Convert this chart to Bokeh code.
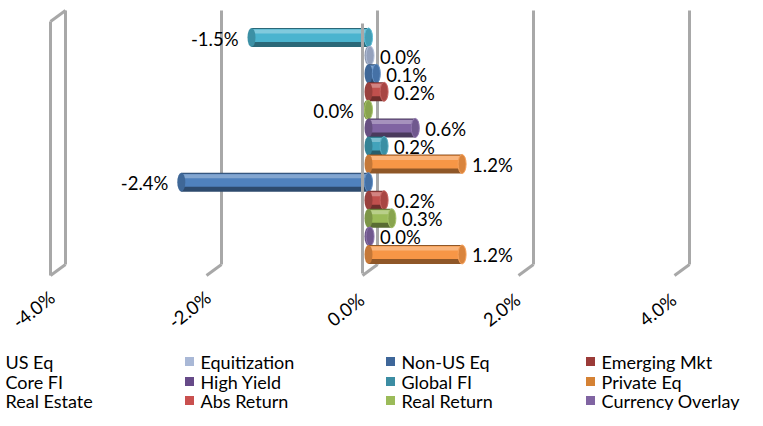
import numpy as np
from bokeh.plotting import figure
from bokeh.models import Range1d
from bokeh.core.properties import value
from bokeh.embed import file_html
from bokeh.resources import INLINE

# ---- data ----
series = ["US Eq", "Equitization", "Non-US Eq", "Emerging Mkt",
          "Core FI", "High Yield", "Global FI", "Private Eq",
          "Real Estate", "Abs Return", "Real Return", "Currency Overlay"]
legend_colors = [None, "#a9b8d6", "#3e6699", "#9b3b38",
                 None, "#664a88", "#3c8da3", "#d58234",
                 None, "#c9504f", "#9bbb59", "#8064a2"]

bar_values = [-1.5, 0.02, 0.1, 0.2, -0.02, 0.6, 0.2, 1.2, -2.4, 0.2, 0.3, 0.02, 1.2]
bar_labels = ["-1.5%", "0.0%", "0.1%", "0.2%", "0.0%", "0.6%", "0.2%", "1.2%",
              "-2.4%", "0.2%", "0.3%", "0.0%", "1.2%"]
bar_colors = ["#4bb4cf", "#a9b8d6", "#4f81bd", "#c0504d", "#9bbb59", "#8064a2",
              "#42a3bb", "#f79646", "#4f81bd", "#c0504d", "#9bbb59", "#8064a2", "#f79646"]
ticks = [-4, -2, 0, 2, 4]

# ---- layout ----
W, H = 747, 410
PX = 78.0          # pixels per 1 %
X0 = 368.0         # pixel of 0 %
FONT = value("Lato")
FS = "18.5px"
LFS = "18px"

p = figure(width=W, height=H, output_backend="svg", toolbar_location=None,
           x_range=Range1d(-X0 / PX, (W - X0) / PX), y_range=Range1d(H, 0),
           min_border=0, outline_line_color=None)
p.axis.visible = False
p.grid.visible = False
p.background_fill_color = "white"
p.border_fill_color = "white"


def mix(c, t, f):
    c = c.lstrip("#")
    r, g, b = int(c[0:2], 16), int(c[2:4], 16), int(c[4:6], 16)
    tr, tg, tb = t
    return "#%02x%02x%02x" % (int(r + (tr - r) * f), int(g + (tg - g) * f), int(b + (tb - b) * f))


def dark(c, f):
    return mix(c, (0, 0, 0), f)


def light(c, f):
    return mix(c, (255, 255, 255), f)


GRID = "#a8a8a8"
GW = 3
dbx = 9 / PX        # back plane offset
dfx = -6 / PX       # front plane offset
YT, YB = 10, 264
DY = 11

# back gridlines
for t in ticks:
    xb = t + dbx
    xf = t + dfx
    p.line([xb, xb], [YT, YB], line_color=GRID, line_width=GW)
    p.line([xb, xf], [YB, YB + DY], line_color=GRID, line_width=GW)
    if t == ticks[0]:
        p.line([xf, xf], [YT + DY, YB + DY], line_color=GRID, line_width=GW)
        p.line([xf, xb], [YT + DY, YT], line_color=GRID, line_width=GW)

# bars
n = len(bar_values)
yc = 37 + 18.08 * np.arange(n)
for v, c, y in zip(bar_values, bar_colors, yc):
    lo, hi = min(0, v), max(0, v)
    p.hbar(y=y, left=lo, right=hi, height=19, fill_color=dark(c, 0.42), line_color=None)
    p.hbar(y=y - 2, left=lo, right=hi, height=13, fill_color=c, line_color=None)
    p.hbar(y=y - 6, left=lo, right=hi, height=4, fill_color=light(c, 0.3), line_color=None)
    p.ellipse(x=lo, y=y, width=8, height=19, width_units="screen",
              height_units="data", fill_color=dark(c, 0.2), line_color=None)
    p.ellipse(x=hi, y=y, width=8, height=19, width_units="screen",
              height_units="data", fill_color=dark(c, 0.12),
              line_color=light(c, 0.12), line_width=1)

# front zero line (in front of the bars)
p.line([ticks[2] + dfx, ticks[2] + dfx], [YT + DY + 2, YB + DY - 2], line_color=GRID, line_width=GW)

# value labels
for v, lab, y in zip(bar_values, bar_labels, yc):
    if v >= 0:
        p.text(x=[v], y=[y], text=[lab], x_offset=10, y_offset=1, text_align="left",
               text_baseline="middle", text_font=FONT, text_font_size=FS, text_color="#000000")
    else:
        p.text(x=[v], y=[y], text=[lab], x_offset=-13, y_offset=1, text_align="right",
               text_baseline="middle", text_font=FONT, text_font_size=FS, text_color="#000000")

# tick labels (rotated)
p.text(x=[t - 23 / PX for t in ticks], y=[309] * len(ticks),
       text=["%.1f%%" % t for t in ticks], angle=0.66, text_align="center",
       text_baseline="middle", text_font=FONT, text_font_size=FS, text_color="#000000")

# legend
col_x = [5, 200, 401, 601]
row_y = [361, 381, 400]
for i, (name, col) in enumerate(zip(series, legend_colors)):
    r, cidx = divmod(i, 4)
    tx = (col_x[cidx] - X0) / PX
    ty = row_y[r]
    if col is not None:
        p.scatter(x=[tx - 11 / PX], y=[ty], marker="square", size=9,
                  fill_color=col, line_color=None)
    p.text(x=[tx], y=[ty], text=[name], text_align="left", text_baseline="middle",
           text_font=FONT, text_font_size=LFS, text_color="#000000")

open("out.html", "w").write(file_html(p, INLINE))
